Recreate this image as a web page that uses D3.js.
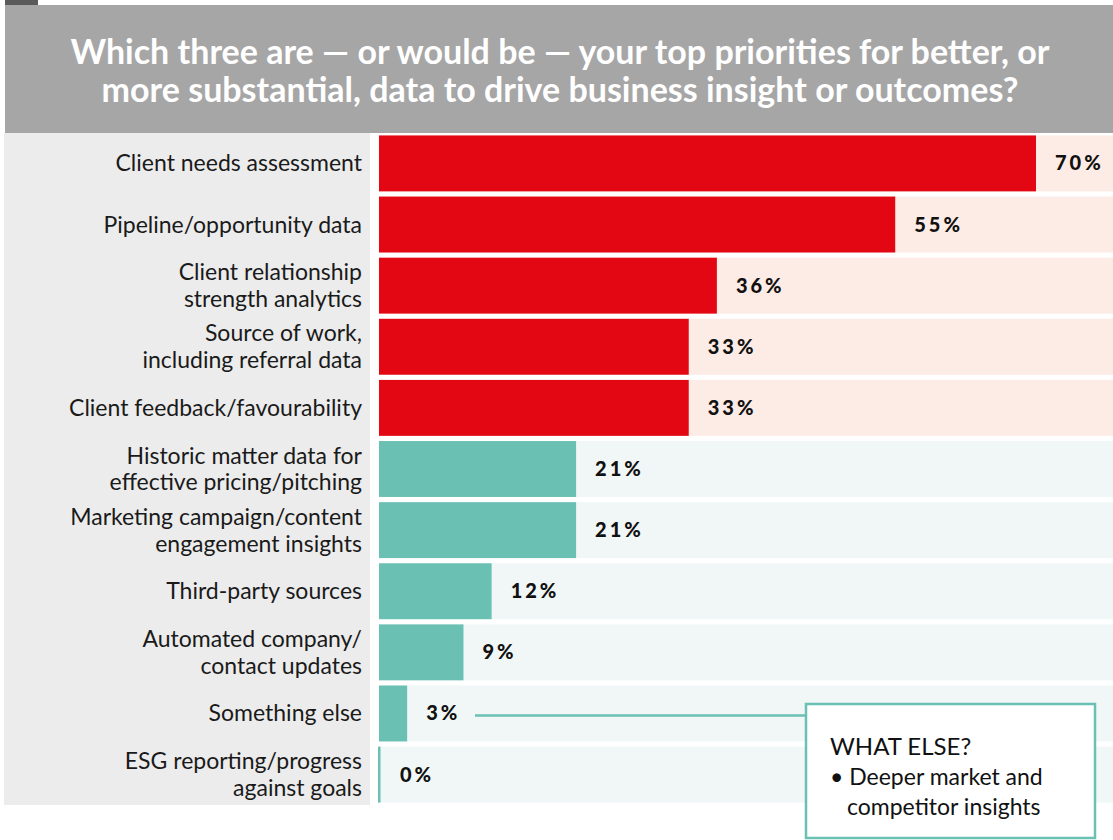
<!DOCTYPE html>
<html>
<head>
<meta charset="utf-8">
<script src="https://cdn.jsdelivr.net/npm/d3@7"></script>
<style>
  html, body { margin: 0; padding: 0; background: #ffffff; }
  svg { display: block; }
</style>
</head>
<body>
<svg id="chart" width="1113" height="840"></svg>
<script>
// Survey answers, top to bottom
const categories = [
  ["Client needs assessment"],
  ["Pipeline/opportunity data"],
  ["Client relationship", "strength analytics"],
  ["Source of work,", "including referral data"],
  ["Client feedback/favourability"],
  ["Historic matter data for", "effective pricing/pitching"],
  ["Marketing campaign/content", "engagement insights"],
  ["Third-party sources"],
  ["Automated company/", "contact updates"],
  ["Something else"],
  ["ESG reporting/progress", "against goals"]
];
const values = [70, 55, 36, 33, 33, 21, 21, 12, 9, 3, 0];
// The top five answers are highlighted
const groups = ["top", "top", "top", "top", "top", "rest", "rest", "rest", "rest", "rest", "rest"];
const titleLines = [
  "Which three are — or would be — your top priorities for better, or",
  "more substantial, data to drive business insight or outcomes?"
];
const calloutLines = ["WHAT ELSE?", "• Deeper market and", "competitor insights"];

const W = 1113, H = 840;
const barColor = { top: "#e30613", rest: "#6ac1b3" };
const trackColor = { top: "#fdebe5", rest: "#f1f7f7" };
const labelFont = "'Lato', 'Noto Sans', sans-serif";

const svg = d3.select("#chart");

// Title band
svg.append("rect").attr("x", 5).attr("y", 0).attr("width", 33).attr("height", 6).attr("fill", "#5a5a5a");
svg.append("rect").attr("x", 5).attr("y", 5).attr("width", W - 5).attr("height", 128).attr("fill", "#a6a6a6");
svg.append("g").selectAll("text").data(titleLines).join("text")
  .attr("x", 560).attr("y", (d, i) => 64 + i * 38)
  .attr("text-anchor", "middle")
  .attr("fill", "#ffffff")
  .attr("font-family", labelFont)
  .attr("font-weight", 700)
  .attr("font-size", 34)
  .text(d => d);

// Scales
const plotTop = 133, plotBottom = 805;
const y = d3.scaleBand().domain(d3.range(values.length)).range([plotTop, plotBottom]).paddingInner(0.085).paddingOuter(0.04);
const x = d3.scaleLinear().domain([0, 70]).range([379, 1036]);

// Label panel
svg.append("rect").attr("x", 4).attr("y", plotTop).attr("width", 366).attr("height", plotBottom - plotTop).attr("fill", "#ececec");

const rows = svg.append("g").selectAll("g").data(values).join("g")
  .attr("transform", (d, i) => `translate(0,${y(i)})`);

// Background tracks
rows.append("rect")
  .attr("x", x(0)).attr("y", 0)
  .attr("width", W - x(0)).attr("height", y.bandwidth())
  .attr("fill", (d, i) => trackColor[groups[i]]);

// Bars (zero values still get a thin marker at the baseline)
rows.append("rect")
  .attr("x", d => d > 0 ? x(0) : x(0) - 1).attr("y", 0)
  .attr("width", d => d > 0 ? x(d) - x(0) : 2.5)
  .attr("height", y.bandwidth())
  .attr("fill", (d, i) => barColor[groups[i]]);

// Value labels
rows.append("text")
  .attr("x", d => Math.max(x(d), x(0) + 2) + 19)
  .attr("y", y.bandwidth() / 2 + 7)
  .attr("font-family", labelFont)
  .attr("font-weight", 900)
  .attr("font-size", 20)
  .attr("letter-spacing", 3)
  .attr("fill", "#111111")
  .text(d => d + "%");

// Category labels
rows.append("text")
  .attr("text-anchor", "end")
  .attr("font-family", labelFont)
  .attr("font-size", 23)
  .attr("fill", "#1a1a1a")
  .each(function (d, i) {
    const lines = categories[i];
    const mid = y.bandwidth() / 2;
    d3.select(this).selectAll("tspan").data(lines).join("tspan")
      .attr("x", 362)
      .attr("y", (l, j) => mid + 8 + (j - (lines.length - 1) / 2) * 27)
      .text(l => l);
  });

// Callout for "Something else"
const iElse = 9;
const lineY = y(iElse) + y.bandwidth() / 2 + 2;
svg.append("line")
  .attr("x1", 475).attr("x2", 806)
  .attr("y1", lineY).attr("y2", lineY)
  .attr("stroke", "#6ac1b3").attr("stroke-width", 2.5);
svg.append("rect")
  .attr("x", 806).attr("y", 704).attr("width", 289).attr("height", 134)
  .attr("fill", "#ffffff").attr("stroke", "#6ac1b3").attr("stroke-width", 2.5);
svg.append("g").selectAll("text").data(calloutLines).join("text")
  .attr("x", (d, i) => i === 2 ? 847 : 830)
  .attr("y", (d, i) => 755 + i * 30)
  .attr("font-family", labelFont)
  .attr("font-size", (d, i) => i === 0 ? 24 : 23)
  .attr("fill", "#111111")
  .text(d => d);
</script>
</body>
</html>
